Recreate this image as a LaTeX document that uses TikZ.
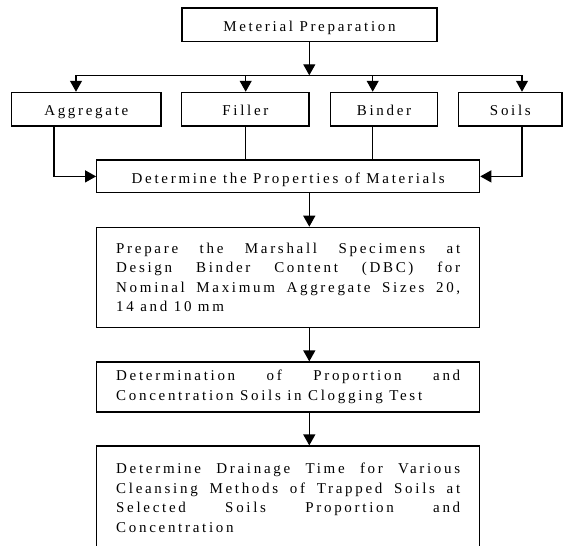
\documentclass[tikz,border=0pt]{standalone}
\usepackage{fontspec}
\setmainfont{Liberation Serif}[LetterSpace=18]
\usetikzlibrary{arrows.meta}
\tikzset{
  box/.style={draw, line width=1.2pt, inner sep=0pt, align=center, anchor=center, text depth=0pt},
  jbox/.style={draw, line width=1.2pt, inner xsep=19.5pt, inner ysep=0pt, text width=344pt, align=justify, minimum width=383pt},
  arr/.style={line width=1.2pt, -{Triangle[length=11pt,width=12pt]}},
  ln/.style={line width=1.2pt}
}
\begin{document}
\begin{tikzpicture}[x=1pt,y=-1pt,font=\fontsize{15}{19.5}\selectfont]
\useasboundingbox (0,0) rectangle (563,546);
\clip (0,0) rectangle (563,546);
\node[box, text height=13.6pt, minimum width=255pt, minimum height=33.7pt] (prep) at (309.5,24.9) {Meterial Preparation};
\node[box, text height=11.6pt, minimum width=149.3pt, minimum height=33.7pt] (agg) at (86.3,109.2) {Aggregate};
\node[box, text height=11.6pt, minimum width=127.3pt, minimum height=33.7pt] (fil) at (245.4,109.2) {Filler};
\node[box, text height=11.6pt, minimum width=106.6pt, minimum height=33.7pt] (bin) at (384,109.2) {Binder};
\node[box, text height=11.6pt, minimum width=103.3pt, minimum height=33.7pt] (soil) at (510.4,109.2) {Soils};
\node[box, text height=15pt, minimum width=383pt, minimum height=32.7pt] (det) at (288.2,176.4) {Determine the Properties of Materials};
\node[jbox, minimum height=100.4pt] (mar) at (288.2,277.5) {Prepare the Marshall Specimens at\linebreak Design Binder Content (DBC) for\linebreak Nominal Maximum Aggregate Sizes 20,\linebreak 14 and 10 mm};
\node[jbox, minimum height=50pt] (clog) at (288.2,387) {Determination of Proportion and\linebreak Concentration Soils in Clogging Test};
\node[jbox, minimum height=104pt] (drain) at (288.2,498) {Determine Drainage Time for Various\linebreak Cleansing Methods of Trapped Soils at\linebreak Selected Soils Proportion and\linebreak Concentration\par\vspace*{5pt}};
% junction line
\coordinate (j) at (309.3,75.3);
\coordinate (jA) at (76,75.3);
\coordinate (jF) at (245.7,75.3);
\coordinate (jB) at (372.7,75.3);
\coordinate (jS) at (522,75.3);
\coordinate (xm) at (309.3,0);
\draw[arr] (prep.south -| xm) -- (j);
\draw[ln] (jA) -- (jS);
\draw[arr] (jA) -- (jA |- agg.north);
\draw[arr] (jF) -- (jF |- fil.north);
\draw[arr] (jB) -- (jB |- bin.north);
\draw[arr] (jS) -- (jS |- soil.north);
% to determine box
\coordinate (xa) at (54,0);
\draw[arr] (agg.south -| xa) |- (det.west);
\draw[ln] (jF |- fil.south) -- (jF |- det.north);
\draw[ln] (jB |- bin.south) -- (jB |- det.north);
\draw[arr] (jS |- soil.south) |- (det.east);
% vertical chain
\draw[arr] (det.south -| xm) -- (mar.north -| xm);
\draw[arr] (mar.south -| xm) -- (clog.north -| xm);
\draw[arr] (clog.south -| xm) -- (drain.north -| xm);
\end{tikzpicture}
\end{document}
